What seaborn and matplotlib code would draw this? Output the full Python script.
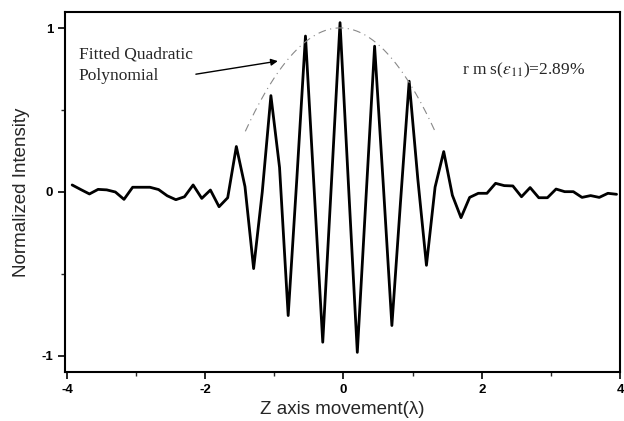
import numpy as np
import pandas as pd
import matplotlib
matplotlib.use("Agg")
import matplotlib.pyplot as plt
import seaborn as sns

# sample positions along z (in wavelengths)
z_pos = [-3.925, -3.8, -3.675, -3.55, -3.425, -3.3, -3.175, -3.05,
         -2.925, -2.8, -2.675, -2.55, -2.425, -2.3, -2.175, -2.05,
         -1.925, -1.8, -1.675, -1.55, -1.425, -1.3, -1.175, -1.05,
         -0.925, -0.8, -0.675, -0.55, -0.425, -0.3, -0.175, -0.05,
         0.075, 0.2, 0.325, 0.45, 0.575, 0.7, 0.825, 0.95,
         1.075, 1.2, 1.325, 1.45, 1.575, 1.7, 1.825, 1.95,
         2.075, 2.2, 2.325, 2.45, 2.575, 2.7, 2.825, 2.95,
         3.075, 3.2, 3.325, 3.45, 3.575, 3.7, 3.825, 3.95]

intensity = [0.043, 0.015, -0.012, 0.016, 0.013, 0.0, -0.045, 0.029,
             0.029, 0.029, 0.015, -0.023, -0.047, -0.029, 0.043, -0.039,
             0.012, -0.09, -0.035, 0.278, 0.033, -0.468, 0.0, 0.589,
             0.15, -0.755, 0.08, 0.953, 0.02, -0.918, 0.05, 1.035,
             0.02, -0.98, -0.04, 0.891, 0.05, -0.816, -0.06, 0.677,
             0.08, -0.448, 0.03, 0.247, -0.02, -0.157, -0.033, -0.008,
             -0.008, 0.053, 0.039, 0.037, -0.029, 0.027, -0.035, -0.035,
             0.018, 0.002, 0.002, -0.033, -0.022, -0.033, -0.008, -0.014]

# fringe maxima used for the quadratic envelope fit
peak_idx = [19, 23, 27, 31, 35, 39, 43]
fit_range = (-1.42, 1.34)

df = pd.DataFrame({"z": z_pos, "I": intensity})

sns.set_style("ticks")
plt.rcParams["font.family"] = ["Liberation Sans", "DejaVu Sans"]
plt.rcParams["mathtext.fontset"] = "stix"
plt.rcParams["axes.unicode_minus"] = False

fig = plt.figure(figsize=(6.24, 4.21), dpi=100)
ax = fig.add_axes([0.104, 0.1164, 0.8896, 0.8551])

sns.lineplot(data=df, x="z", y="I", color="black", linewidth=2.0,
             estimator=None, sort=False, ax=ax)

pz = np.array(z_pos)[peak_idx]
pi = np.array(intensity)[peak_idx]
coef = np.polyfit(pz, pi, 2)
zz = np.linspace(fit_range[0], fit_range[1], 200)
ax.plot(zz, np.polyval(coef, zz), color="#888888", linewidth=0.8,
        linestyle=(0, (7, 4, 1, 4)))

ax.set_xlim(-4.03, 4.0)
ax.set_ylim(-1.1, 1.1)
ax.set_xticks([-4, -2, 0, 2, 4])
ax.set_yticks([-1, 0, 1])
ax.set_xticks([-3, -1, 1, 3], minor=True)
ax.set_yticks([-0.5, 0.5], minor=True)
ax.tick_params(which="major", direction="out", length=5, width=1.2,
               labelsize=9.5, colors="black")
ax.tick_params(which="minor", direction="out", length=3, width=1.0)
for lab in ax.get_xticklabels() + ax.get_yticklabels():
    lab.set_fontweight("bold")

for s in ax.spines.values():
    s.set_visible(True)
    s.set_linewidth(1.5)
    s.set_color("black")

ax.set_xlabel("Z axis movement(λ)", fontsize=13.5, labelpad=4)
ax.set_ylabel("Normalized Intensity", fontsize=13.5, labelpad=8)

ax.annotate("Fitted Quadratic\nPolynomial", xy=(-0.95, 0.80),
            xytext=(-3.83, 0.89), fontsize=12.5, family="Liberation Serif",
            va="top", ha="left", linespacing=1.5,
            arrowprops=dict(arrowstyle="-|>", color="black", lw=1.0,
                            shrinkA=0, shrinkB=0, mutation_scale=10,
                            relpos=(0.93, 0.22)))

ax.text(1.72, 0.72, r"r m s($\epsilon_{11}$)=2.89%", fontsize=12.5,
        family="Liberation Serif", ha="left", va="baseline")

fig.savefig("out.png", dpi=100)
